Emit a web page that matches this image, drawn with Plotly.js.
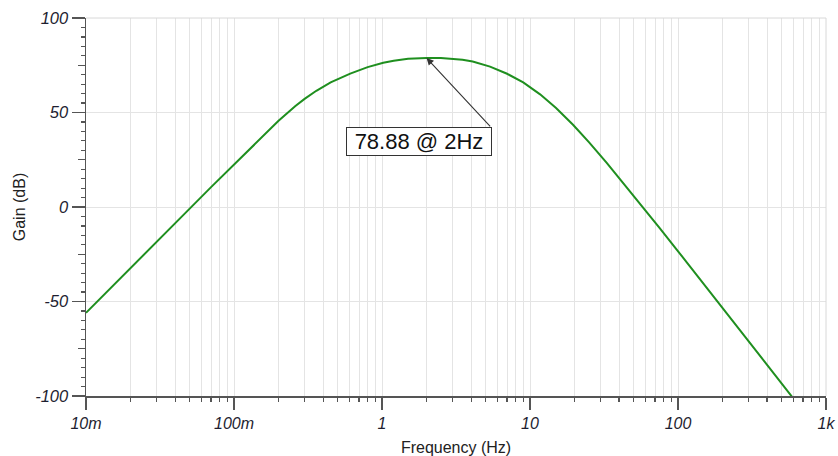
<!DOCTYPE html>
<html>
<head>
<meta charset="utf-8">
<script src="https://cdn.plot.ly/plotly-3.0.1.min.js"></script>
<style>html,body{margin:0;padding:0;background:#fff;}#chart{width:838px;height:456px;}</style>
</head>
<body>
<div id="chart"></div>
<script>
// Frequency (Hz) and gain (dB)
const freqHz = [0.01, 0.02, 0.03, 0.05, 0.07, 0.1, 0.15, 0.2, 0.26, 0.3, 0.36, 0.45, 0.61, 0.8, 1.02, 1.2, 1.5, 2, 2.5, 3, 3.5, 4.1, 5.37, 7, 9, 11.7, 15, 19.6, 25, 33, 40.6, 55.4, 75, 98, 140, 192, 300, 400, 586, 620];
const gainDb = [-56.0, -32.5, -18.8, -1.0, 10.5, 22.5, 36.2, 45.6, 53.4, 57.2, 61.5, 65.9, 70.6, 74.0, 76.3, 77.4, 78.4, 78.88, 78.8, 78.5, 77.9, 77.0, 74.3, 70.5, 65.9, 59.6, 52.4, 43.4, 34.3, 23.3, 14.8, 1.8, -11.0, -22.5, -38.0, -51.7, -71.1, -83.6, -100.2, -102.6];

const xMajorVals = [0.01, 0.1, 1, 10, 100, 1000];
const xMajorText = ['10m', '100m', '1', '10', '100', '1k'];
const xMinorVals = [0.02,0.03,0.04,0.05,0.06,0.07,0.08,0.09,
                    0.2,0.3,0.4,0.5,0.6,0.7,0.8,0.9,
                    2,3,4,5,6,7,8,9,
                    20,30,40,50,60,70,80,90,
                    200,300,400,500,600,700,800,900];
const yMajorVals = [-100, -50, 0, 50, 100];
const yMajorText = ['-100', '-50', '0', '50', '100'];
const yMidVals = [-75, -25, 25, 75];

const peakFreq = 2;
const peakGain = 78.88;
const peakLabel = '78.88 @ 2Hz';

const FONT = 'Liberation Sans, Arial, sans-serif';
const AXC = '#555555';
const GRID = '#e4e4e4';

const traces = [
  {x: freqHz, y: gainDb, type: 'scatter', mode: 'lines',
   line: {color: '#1f8f1f', width: 2}, hoverinfo: 'skip', showlegend: false},
  {x: [], y: [], xaxis: 'x2', yaxis: 'y2', type: 'scatter', mode: 'lines', showlegend: false, hoverinfo: 'skip'}
];

const layout = {
  width: 838, height: 456,
  margin: {l: 86, r: 12, t: 18, b: 60},
  paper_bgcolor: '#ffffff', plot_bgcolor: '#ffffff',
  showlegend: false,
  font: {family: FONT, color: '#222222'},
  xaxis: {
    type: 'log', range: [-2, 3],
    tickvals: xMajorVals, ticktext: xMajorText,
    ticks: 'outside', ticklen: 12, tickwidth: 1.5, tickcolor: AXC,
    showline: true, linecolor: AXC, linewidth: 1.5,
    showgrid: true, gridcolor: GRID, gridwidth: 1,
    zeroline: false,
    tickfont: {family: FONT, size: 16, color: '#1e1e30', style: 'italic'},
    title: {text: 'Frequency (Hz)', font: {family: FONT, size: 16, color: '#222'}, standoff: 12}
  },
  xaxis2: {
    type: 'log', range: [-2, 3], overlaying: 'x', anchor: 'y',
    tickvals: xMinorVals, showticklabels: false,
    ticks: 'outside', ticklen: 5, tickwidth: 1.2, tickcolor: AXC,
    showline: false, showgrid: true, gridcolor: GRID, gridwidth: 1, zeroline: false
  },
  yaxis: {
    range: [-100, 100],
    tickvals: yMajorVals, ticktext: yMajorText,
    ticks: 'outside', ticklen: 13, tickwidth: 1.5, tickcolor: AXC,
    showline: true, linecolor: AXC, linewidth: 1.5,
    showgrid: true, gridcolor: GRID, gridwidth: 1,
    zeroline: false,
    minor: {dtick: 5, ticks: 'outside', ticklen: 3.5, tickwidth: 1.2, tickcolor: AXC, showgrid: false},
    tickfont: {family: FONT, size: 16.5, color: '#1e1e30', style: 'italic'},
    title: {text: 'Gain (dB)', font: {family: FONT, size: 16, color: '#222'}, standoff: 5}
  },
  yaxis2: {
    range: [-100, 100], overlaying: 'y', anchor: 'x', side: 'left',
    tickvals: yMidVals, showticklabels: false,
    ticks: 'outside', ticklen: 7, tickwidth: 1.2, tickcolor: AXC,
    showline: false, showgrid: false, zeroline: false
  },
  shapes: [
    {type: 'line', xref: 'paper', yref: 'paper', x0: 0, x1: 1, y0: 1, y1: 1, line: {color: '#d8d8d8', width: 1}},
    {type: 'line', xref: 'paper', yref: 'paper', x0: 1, x1: 1, y0: 0, y1: 1, line: {color: '#d8d8d8', width: 1}}
  ],
  annotations: [
    {x: Math.log10(peakFreq), y: peakGain, xref: 'x', yref: 'y', text: '',
     showarrow: true, ax: 65, ay: 70, axref: 'pixel', ayref: 'pixel',
     arrowhead: 2, arrowsize: 1.3, arrowwidth: 1.1, arrowcolor: '#333333', standoff: 0, startstandoff: 0},
    {x: 0.25, y: 34.5, xref: 'x', yref: 'y', text: peakLabel, showarrow: false,
     font: {family: FONT, size: 22, color: '#111111'},
     bgcolor: '#ffffff', bordercolor: '#333333', borderwidth: 1,
     width: 142, height: 25, align: 'center', valign: 'middle'}
  ]
};

Plotly.newPlot('chart', traces, layout, {staticPlot: true, displayModeBar: false});
</script>
</body>
</html>
